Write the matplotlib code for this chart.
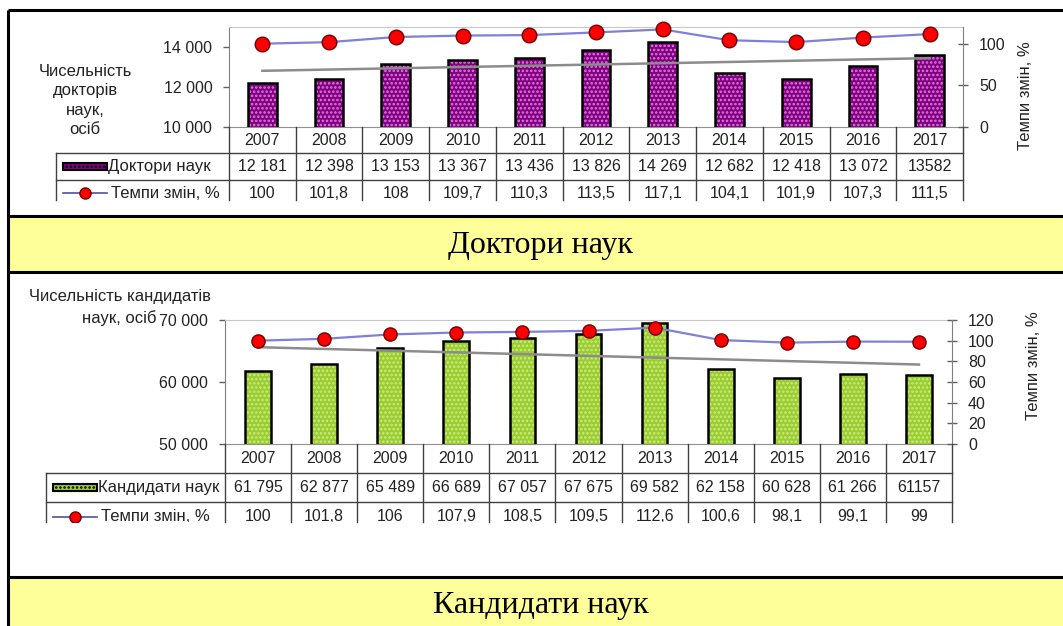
import numpy as np
import matplotlib.pyplot as plt
from matplotlib.patches import Rectangle
from matplotlib.ticker import FuncFormatter

plt.rcParams['font.family'] = ['Liberation Sans', 'DejaVu Sans']
plt.rcParams['hatch.linewidth'] = 1.2

years = ['2007', '2008', '2009', '2010', '2011', '2012', '2013', '2014', '2015', '2016', '2017']

doctors = [12181, 12398, 13153, 13367, 13436, 13826, 14269, 12682, 12418, 13072, 13582]
doctors_labels = ['12 181', '12 398', '13 153', '13 367', '13 436', '13 826', '14 269',
                  '12 682', '12 418', '13 072', '13582']
doctors_rate = [100, 101.8, 108, 109.7, 110.3, 113.5, 117.1, 104.1, 101.9, 107.3, 111.5]
doctors_rate_labels = ['100', '101,8', '108', '109,7', '110,3', '113,5', '117,1',
                       '104,1', '101,9', '107,3', '111,5']

candidates = [61795, 62877, 65489, 66689, 67057, 67675, 69582, 62158, 60628, 61266, 61157]
candidates_labels = ['61 795', '62 877', '65 489', '66 689', '67 057', '67 675', '69 582',
                     '62 158', '60 628', '61 266', '61157']
candidates_rate = [100, 101.8, 106, 107.9, 108.5, 109.5, 112.6, 100.6, 98.1, 99.1, 99]
candidates_rate_labels = ['100', '101,8', '106', '107,9', '108,5', '109,5', '112,6',
                          '100,6', '98,1', '99,1', '99']

W, H = 1063, 626
fig = plt.figure(figsize=(W / 100, H / 100), dpi=100)
TXT = '#222222'
LBL = 12


def rect(x0, y0, x1, y1):
    # pixel box (top-left origin) -> figure fraction
    return [x0 / W, 1 - y1 / H, (x1 - x0) / W, (y1 - y0) / H]


def thousands(v, pos):
    return f'{int(v):,}'.replace(',', ' ')


# background frame, yellow bands and titles
bg = fig.add_axes([0, 0, 1, 1], zorder=-5)
bg.set_xlim(0, W)
bg.set_ylim(H, 0)
bg.axis('off')
bg.add_patch(Rectangle((8, 216), W - 8, 56, color='#FFFF99', lw=0))
bg.add_patch(Rectangle((8, 577), W - 8, H - 577, color='#FFFF99', lw=0))
for yy in [10, 216, 272, 577]:
    bg.plot([8, W], [yy, yy], color='black', lw=2.2, solid_capstyle='butt')
bg.plot([8, 8], [10, H], color='black', lw=2.2, solid_capstyle='butt')
bg.text(540, 245, 'Доктори наук', family=['Liberation Serif'], fontsize=23,
        ha='center', va='center')
bg.text(541, 606, 'Кандидати наук', family=['Liberation Serif'], fontsize=23,
        ha='center', va='center')


def draw_chart(box, row_h, cut, label_left, values, value_labels, rate, rate_labels,
               ylim, yticks, rticks, face, dots, bar_w, ms, name):
    x0, y0, x1, y1 = box
    x = np.arange(len(years))

    ax = fig.add_axes(rect(x0, y0, x1, y1))
    ax.bar(x, values, bar_w, color=face, edgecolor=dots, hatch='....', lw=0, zorder=3)
    ax.bar(x, values, bar_w, fill=False, edgecolor='black', lw=1.8, zorder=4)
    coef = np.polyfit(x, values, 1)
    ax.plot(x, np.polyval(coef, x), color='#8C8C8C', lw=1.8, zorder=5)
    ax.set_xlim(-0.5, len(years) - 0.5)
    ax.set_ylim(*ylim)
    ax.set_yticks(yticks)
    ax.yaxis.set_major_formatter(FuncFormatter(thousands))
    ax.set_xticks([])
    ax.tick_params(axis='y', direction='out', length=4, width=1, color='#606060',
                   labelsize=11.5, pad=8, labelcolor=TXT)
    ax.spines['top'].set_color('#C8C8C8')
    ax.spines['bottom'].set_color('#909090')
    ax.spines['left'].set_color('#808080')
    ax.spines['right'].set_visible(False)

    ax2 = ax.twinx()
    ax2.plot(x, rate, color='#8080D8', lw=1.6, marker='o', ms=ms, mfc='#FF0000',
             mec='#700000', mew=1.0, clip_on=False, zorder=6)
    ax2.set_ylim(0, 120)
    ax2.set_yticks(rticks)
    ax2.tick_params(axis='y', direction='inout', length=7, width=1, color='#606060',
                    labelsize=11.5, pad=8, labelcolor=TXT)
    for s in ['top', 'bottom', 'left']:
        ax2.spines[s].set_visible(False)
    ax2.spines['right'].set_color('#808080')

    # data table under the plot
    colw = (x1 - x0) / len(years)
    lab = (x0 - label_left) / colw
    rows = (cut - y1) / row_h
    tx = fig.add_axes(rect(label_left, y1, x1, cut))
    tx.set_xlim(-0.5 - lab, len(years) - 0.5)
    tx.set_ylim(rows, 0)
    tx.axis('off')
    lc = '#404040'
    for b in np.arange(-0.5, len(years), 1.0):
        tx.plot([b, b], [0, rows], color=lc, lw=1, clip_on=False)
    tx.plot([-0.5 - lab, -0.5 - lab], [1, rows], color=lc, lw=1, clip_on=False)
    for r in [1, 2]:
        tx.plot([-0.5 - lab, len(years) - 0.5], [r, r], color=lc, lw=1, clip_on=False)
    for i in range(len(years)):
        tx.text(i, 0.5, years[i], ha='center', va='center', fontsize=11.5, color=TXT)
        tx.text(i, 1.5, value_labels[i], ha='center', va='center', fontsize=11.5, color=TXT)
        tx.text(i, 2.5, rate_labels[i], ha='center', va='center', fontsize=11.5,
                color=TXT, clip_on=True)

    # legend keys inside the label column
    px = 1 / colw
    left = -0.5 - lab
    tx.add_patch(Rectangle((left + 7 * px, 1.5 - 3.5 / row_h), 44 * px, 7 / row_h,
                           facecolor=face, edgecolor='black', lw=1.5, hatch='....'))
    tx.text(left + 52 * px, 1.5, name, ha='left', va='center', fontsize=LBL, color=TXT)
    tx.plot([left + 7 * px, left + 51 * px], [2.5, 2.5], color='#5050A0', lw=1.2)
    tx.plot([left + 29 * px], [2.5], marker='o', ms=8, mfc='#FF0000', mec='#700000', mew=1)
    tx.text(left + 55 * px, 2.5, 'Темпи змін, %', ha='left', va='center', fontsize=LBL,
            color=TXT, clip_on=True)


draw_chart((229, 27, 963, 127), 26.5, 200, 56, doctors, doctors_labels, doctors_rate,
           doctors_rate_labels, (10000, 15000), [10000, 12000, 14000], [0, 50, 100],
           '#800080', '#E27BE2', 0.43, 10.5, 'Доктори наук')
draw_chart((225, 320, 952, 444), 29, 522, 46, candidates, candidates_labels, candidates_rate,
           candidates_rate_labels, (50000, 70000), [50000, 60000, 70000],
           [0, 20, 40, 60, 80, 100, 120],
           '#9ACD32', '#CDEB80', 0.39, 9.5, 'Кандидати наук')

for yy, line in zip([72, 91, 110, 129], ['Чисельність', 'докторів', 'наук,', 'осіб']):
    bg.text(85, yy, line, ha='center', va='center', fontsize=LBL, color=TXT)
bg.text(120, 297, 'Чисельність кандидатів', ha='center', va='center', fontsize=LBL, color=TXT)
bg.text(119, 318, 'наук, осіб', ha='center', va='center', fontsize=LBL, color=TXT)
bg.text(1026, 96, 'Темпи змін, %', rotation=90, ha='center', va='center',
        fontsize=LBL, color=TXT)
bg.text(1034, 366, 'Темпи змін, %', rotation=90, ha='center', va='center',
        fontsize=LBL, color=TXT)

plt.savefig('out.png', dpi=100)
